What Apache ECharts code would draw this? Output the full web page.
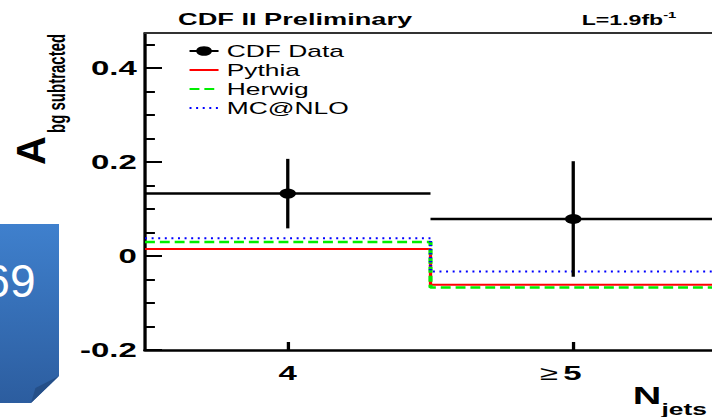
<!DOCTYPE html>
<html><head><meta charset="utf-8">
<script src="https://cdn.jsdelivr.net/npm/echarts@6/dist/echarts.min.js"></script>
<style>
html,body{margin:0;padding:0;background:#fff;overflow:hidden;width:712px;height:417px}
#chart{width:432px;height:417px;transform:scaleX(1.6481);transform-origin:0 0;}
</style></head><body><div id="chart"></div>
<script>
// ---- data ----
const binEdges = [3.5, 4.5, 5.5];
const xTickValues = [4, 5];
const xTickLabels = ['4', '≥5'];
const yMajorTicks = [-0.2, 0, 0.2, 0.4];
const yMinorTicks = [-0.15, -0.1, -0.05, 0.05, 0.1, 0.15, 0.25, 0.3, 0.35, 0.45];
const dataCenters = [4, 5];
const dataValues = [0.133, 0.079];
const dataErrors = [0.074, 0.123];
const pythia = [0.015, -0.061];
const herwig = [0.030, -0.067];
const mcnlo = [0.038, -0.033];
const seriesNames = ['CDF Data', 'Pythia', 'Herwig', 'MC@NLO'];

const S = 1.6481; // horizontal stretch of the picture
const FF = '"Liberation Sans", Arial, Helvetica, sans-serif';
const XMIN = 3.5, XMAX = 5.486, YMIN = -0.2, YMAX = 0.475;

function stepData(vals) {
  const out = [];
  for (let i = 0; i < vals.length; i++) out.push([binEdges[i], vals[i]]);
  out.push([binEdges[vals.length], vals[vals.length - 1]]);
  return out;
}

const chart = echarts.init(document.getElementById('chart'), null, {renderer: 'svg'});
const bold20 = {fontFamily: FF, fontSize: 20, fontWeight: 'bold', color: '#000'};

chart.setOption({
  animation: false,
  backgroundColor: '#fff',
  title: [
    {text: 'CDF II Preliminary', left: 108, top: 11, padding: 0,
     textStyle: {fontFamily: FF, fontSize: 16.5, fontWeight: 'bold', color: '#000'}},
    {text: '{m|L=1.9fb}{s|-1}', left: 353, top: 11, padding: 0,
     textStyle: {rich: {
       m: {fontFamily: FF, fontSize: 14, fontWeight: 'bold', color: '#000'},
       s: {fontFamily: FF, fontSize: 9, fontWeight: 'bold', color: '#000', padding: [0, 0, 9, 0]}
     }}}
  ],
  legend: {
    orient: 'vertical', left: 114, top: 43, padding: 0,
    itemWidth: 17.6, itemHeight: 12, itemGap: 3, selectedMode: false,
    textStyle: {fontFamily: FF, fontSize: 16, color: '#000'},
    data: seriesNames.map((n, i) => i === 0 ? {name: n} : {name: n, itemStyle: {opacity: 0}})
  },
  grid: {left: 88, right: 0, top: 33, bottom: 67, containLabel: false, outerBoundsMode: 'none'},
  xAxis: [
    {type: 'value', min: XMIN, max: XMAX, position: 'bottom',
     axisLine: {show: true, onZero: false, lineStyle: {color: '#000', width: 2.5}},
     axisTick: {show: true, inside: true, length: 8, customValues: xTickValues, lineStyle: {color: '#000', width: 2}},
     axisLabel: {show: true, margin: 13, customValues: xTickValues,
       formatter: function (v) {
         const i = xTickValues.indexOf(v);
         const t = i >= 0 ? xTickLabels[i] : '';
         if (t.charAt(0) === '≥') return '{r|≥}{b|' + t.slice(1) + '}{p|}';
         return '{b|' + t + '}';
       },
       rich: {
         b: bold20,
         r: {fontFamily: FF, fontSize: 20, color: '#000', padding: [0, 3, 0, 0]},
         p: {width: 15}
       }},
     splitLine: {show: false},
     name: '{n|N}{s|jets}', nameLocation: 'end', nameGap: -48,
     nameTextStyle: {verticalAlign: 'top', padding: [24, 0, 0, 0], rich: {
       n: {fontFamily: FF, fontSize: 24, fontWeight: 'bold', color: '#000'},
       s: {fontFamily: FF, fontSize: 16, fontWeight: 'bold', color: '#000', padding: [28, 0, 0, 0]}
     }}},
    {type: 'value', min: XMIN, max: XMAX, position: 'top',
     axisLine: {show: true, onZero: false, lineStyle: {color: '#333', width: 2}},
     axisTick: {show: false}, axisLabel: {show: false}, splitLine: {show: false}}
  ],
  yAxis: [
    {type: 'value', min: YMIN, max: YMAX, position: 'left',
     axisLine: {show: true, onZero: false, lineStyle: {color: '#000', width: 2}},
     axisTick: {show: true, inside: true, length: 10.3, customValues: yMajorTicks, lineStyle: {color: '#000', width: 2}},
     axisLabel: {show: true, margin: 5, customValues: yMajorTicks, formatter: v => String(v), ...bold20},
     splitLine: {show: false}},
    {type: 'value', min: YMIN, max: YMAX, position: 'left',
     axisLine: {show: false, onZero: false},
     axisTick: {show: true, inside: true, length: 6, customValues: yMinorTicks, lineStyle: {color: '#000', width: 2}},
     axisLabel: {show: false}, splitLine: {show: false}}
  ],
  series: [
    {type: 'line', name: 'CDF Data', data: [], symbol: 'circle', symbolSize: 10,
     itemStyle: {color: '#000'}, lineStyle: {color: '#000', width: 2}},
    {type: 'line', name: 'Pythia', step: 'end', symbol: 'none', data: stepData(pythia),
     itemStyle: {color: '#ff0000'}, lineStyle: {color: '#ff0000', width: 2}, z: 3},
    {type: 'line', name: 'Herwig', step: 'end', symbol: 'none', data: stepData(herwig),
     itemStyle: {color: '#00ee00'}, lineStyle: {color: '#00ee00', width: 2.5, type: [6, 3]}, z: 3},
    {type: 'line', name: 'MC@NLO', step: 'end', symbol: 'none', data: stepData(mcnlo),
     itemStyle: {color: '#0000ff'}, lineStyle: {color: '#0000ff', width: 2, type: [1.2, 2.8]}, z: 3},
    {type: 'custom', name: 'CDF Data', clip: true, z: 5,
     data: dataCenters.map((c, i) => [c, dataValues[i], dataErrors[i], binEdges[i], binEdges[i + 1]]),
     encode: {x: 0, y: 1},
     renderItem: function (params, api) {
       const x = api.value(0), y = api.value(1), e = api.value(2), lo = api.value(3), hi = api.value(4);
       const pl = api.coord([lo, y]), pr = api.coord([hi, y]);
       const pt = api.coord([x, y + e]), pb = api.coord([x, y - e]), pc = api.coord([x, y]);
       return {type: 'group', children: [
         {type: 'line', shape: {x1: pl[0], y1: pl[1], x2: pr[0], y2: pr[1]}, style: {stroke: '#000', lineWidth: 2.5}},
         {type: 'line', shape: {x1: pt[0], y1: pt[1], x2: pb[0], y2: pb[1]}, style: {stroke: '#000', lineWidth: 2}},
         {type: 'circle', shape: {cx: pc[0], cy: pc[1], r: 5}, style: {fill: '#000'}}
       ]};
     }}
  ],
  graphic: [
    {type: 'text', x: 18.8, y: 165, rotation: Math.PI / 2, scaleY: 1 / S,
     style: {text: 'A', font: 'bold 40px ' + FF, fill: '#000', align: 'left', verticalAlign: 'middle'}},
    {type: 'text', x: 34.2, y: 133, rotation: Math.PI / 2,
     style: {text: 'bg subtracted', font: 'bold 15px ' + FF, fill: '#000', align: 'left', verticalAlign: 'middle'}},
    {type: 'polygon', shape: {points: [[0, 224], [35.8, 224], [35.8, 376], [18.8, 403], [0, 403]]},
     style: {fill: {type: 'linear', x: 0, y: 0, x2: 0, y2: 1, colorStops: [
       {offset: 0, color: '#3f80cd'}, {offset: 1, color: '#2c5d9f'}]}}},
    {type: 'polygon', shape: {points: [[35.8, 376], [21.5, 388], [18.8, 403]]},
     style: {fill: '#254f88'}},
    {type: 'text', x: -9.5, y: 281, scaleX: 1 / S,
     style: {text: '69', font: '46px ' + FF, fill: '#fff', align: 'left', verticalAlign: 'middle'}}
  ]
});
</script></body></html>
